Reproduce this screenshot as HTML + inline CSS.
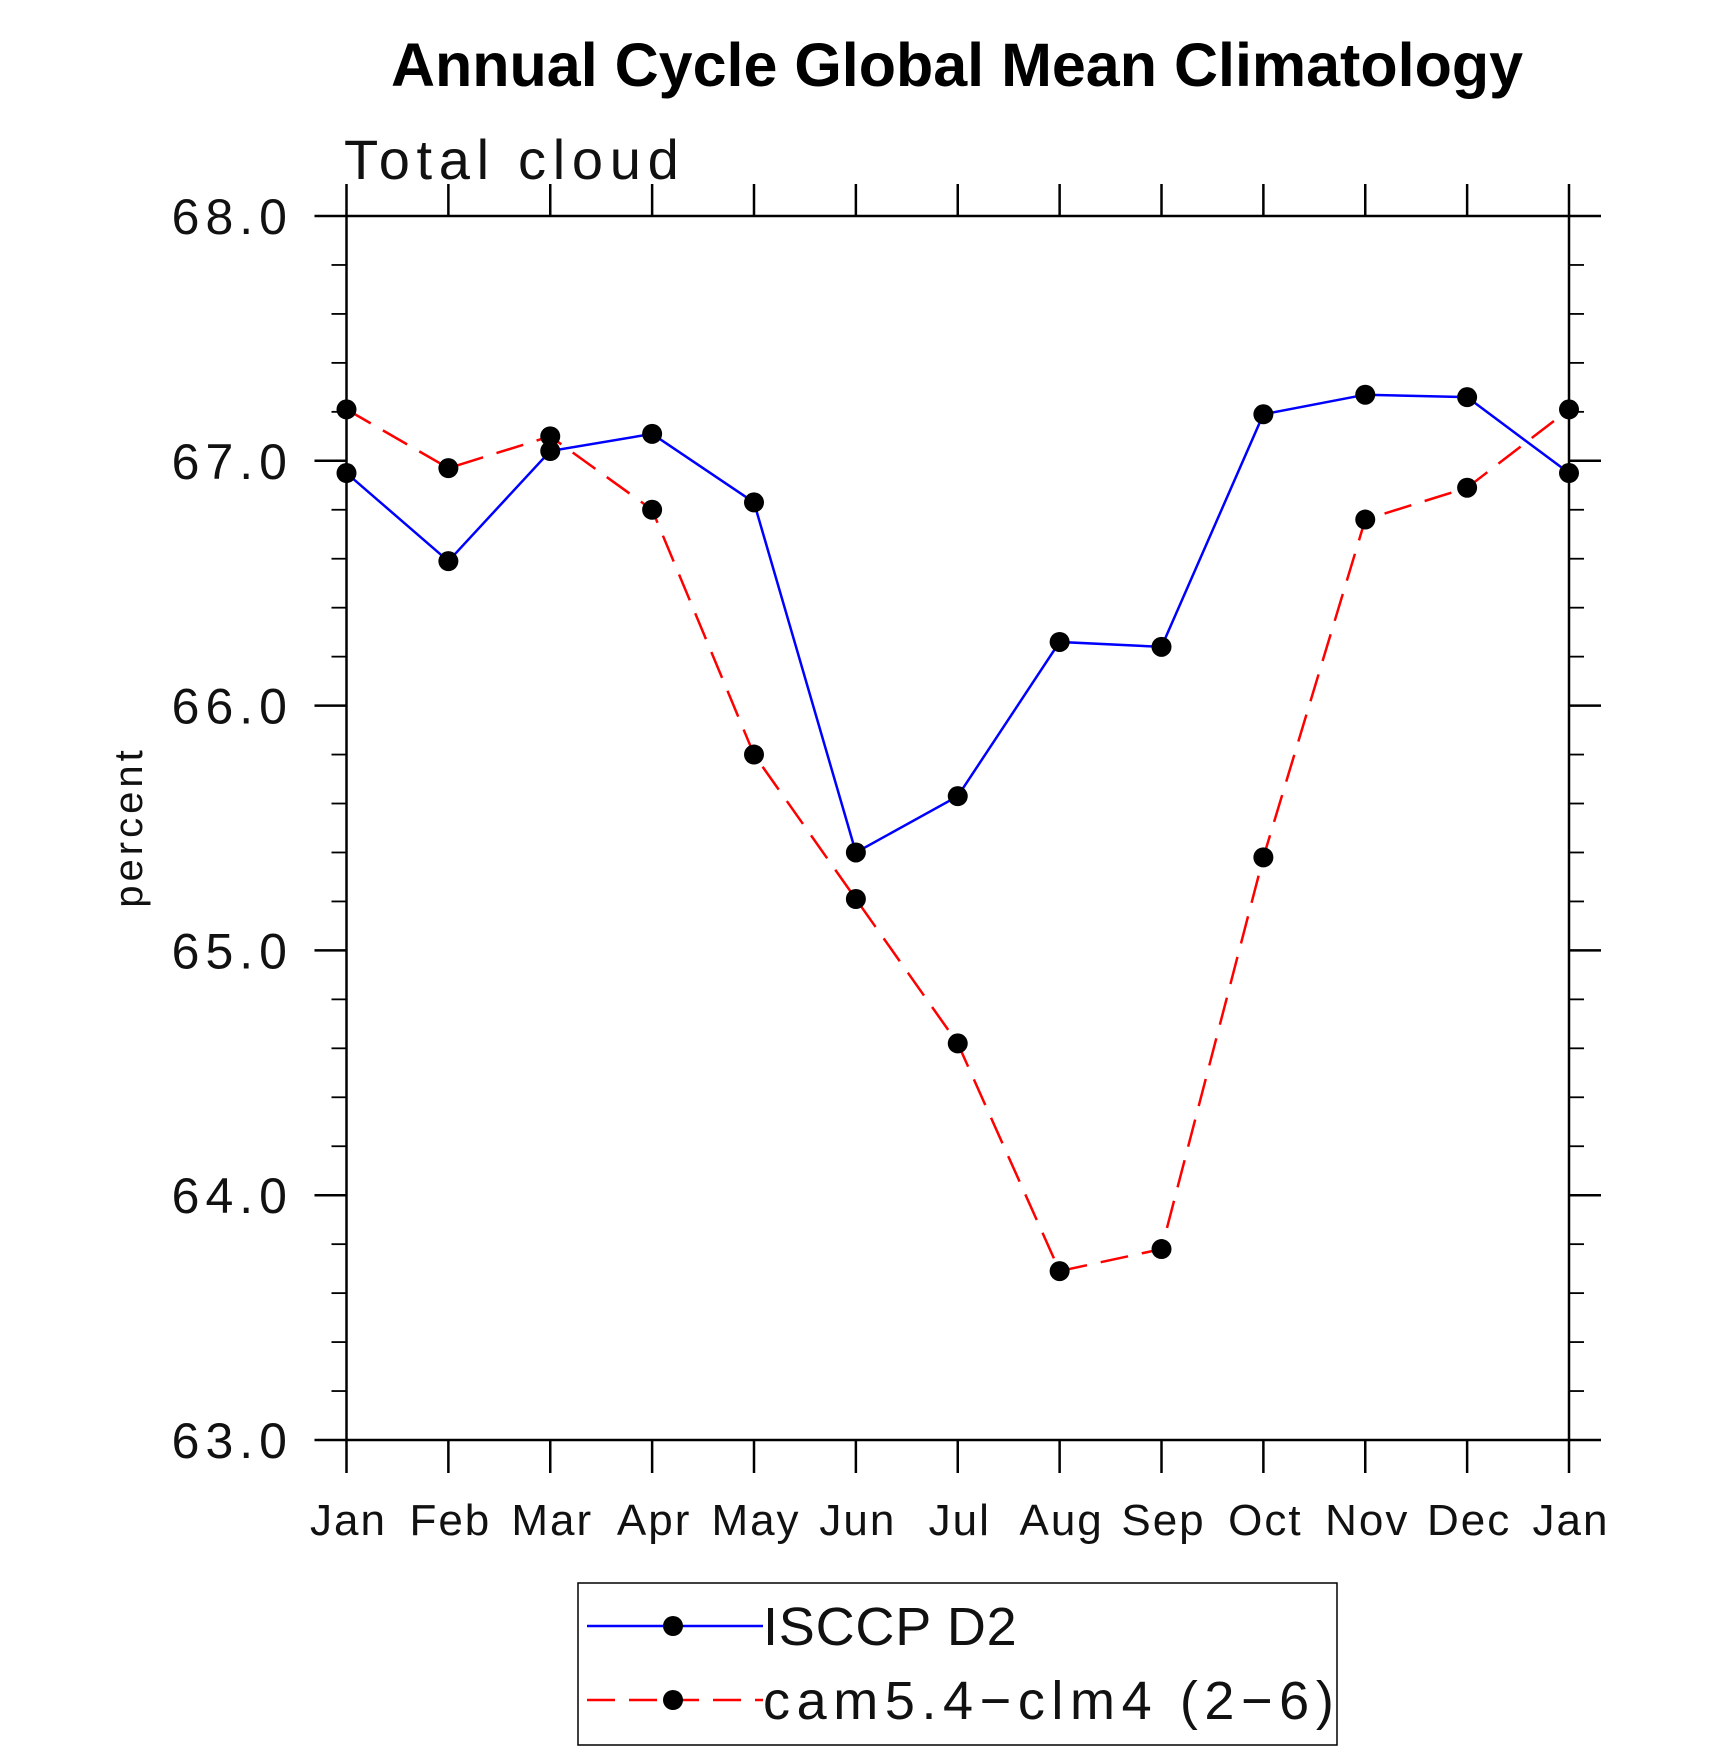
<!DOCTYPE html>
<html><head><meta charset="utf-8"><style>
html,body{margin:0;padding:0;background:#fff;}
svg{display:block;}
text{font-family:"Liberation Sans",sans-serif;}
</style></head><body>
<svg id="chart" width="1710" height="1751" viewBox="0 0 1710 1751" xmlns="http://www.w3.org/2000/svg">
<text x="957" y="86" text-anchor="middle" font-size="61" font-weight="bold">Annual Cycle Global Mean Climatology</text>
<text x="344" y="179" font-size="56" letter-spacing="6.7" fill="#111">Total cloud</text>
<text transform="translate(142,827) rotate(-90)" text-anchor="middle" font-size="40" letter-spacing="4" fill="#111">percent</text>
<g id="axes"></g>
<g id="series"></g>
<rect x="578" y="1583" width="759" height="162" fill="none" stroke="#000" stroke-width="1.5"/>
<g>
<line x1="587" y1="1626" x2="763" y2="1626" stroke="#0000ff" stroke-width="2.5"/>
<circle cx="673" cy="1626" r="10" fill="#000"/>
<text x="763" y="1645" font-size="54" letter-spacing="0.8" fill="#111">ISCCP D2</text>
</g>
<g>
<line x1="587" y1="1700" x2="763" y2="1700" stroke="#ff0000" stroke-width="2.5" stroke-dasharray="28,14"/>
<circle cx="673" cy="1700" r="10" fill="#000"/>
<text x="763" y="1719" font-size="54" letter-spacing="6.6" fill="#111">cam5.4−clm4 (2−6)</text>
</g>
</svg>
<script>
const months = ["Jan","Feb","Mar","Apr","May","Jun","Jul","Aug","Sep","Oct","Nov","Dec","Jan"];
const isccpValues = [66.95,66.59,67.04,67.11,66.83,65.40,65.63,66.26,66.24,67.19,67.27,67.26,66.95];
const camValues = [67.21,66.97,67.10,66.80,65.80,65.21,64.62,63.69,63.78,65.38,66.76,66.89,67.21];
const yTickLabels = ["63.0","64.0","65.0","66.0","67.0","68.0"];
const yMin = 63, yMax = 68;

const L=346.5,R=1569,T=216,B=1440;
const NS="http://www.w3.org/2000/svg";
function xs(i){return L+(R-L)*i/(months.length-1);}
function ys(v){return B-(B-T)*(v-yMin)/(yMax-yMin);}
function mk(tag,attrs,parent){const e=document.createElementNS(NS,tag);for(const k in attrs)e.setAttribute(k,attrs[k]);parent.appendChild(e);return e;}
const axes=document.getElementById('axes');
const series=document.getElementById('series');

const frame=mk('rect',{x:L,y:T,width:R-L,height:B-T,fill:'none',stroke:'#000','stroke-width':2.5},axes);



months.forEach((m,i)=>{
  const x=xs(i);
  const tb=mk('line',{x1:x,y1:B,x2:x,y2:B+33,stroke:'#000','stroke-width':2.5},axes);
  
  
  const tt=mk('line',{x1:x,y1:T,x2:x,y2:T-32,stroke:'#000','stroke-width':2.5},axes);
  
  
  const t=mk('text',{x:x+2,y:1535,'text-anchor':'middle','font-size':44,'letter-spacing':2,fill:'#111'},axes);
  t.textContent=m;
  
  
});

for(let k=0;k<=25;k++){
  const v=yMin+k*0.2;const y=ys(v);const major=(k%5===0);
  const len=major?32:15;
  const a=mk('line',{x1:L-len,y1:y,x2:L,y2:y,stroke:'#000','stroke-width':major?2.5:1.8},axes);
  
  
  const b=mk('line',{x1:R,y1:y,x2:R+len,y2:y,stroke:'#000','stroke-width':major?2.5:1.8},axes);
  
  
}
yTickLabels.forEach(lbl=>{
  const v=parseFloat(lbl);
  const t=mk('text',{x:293,y:ys(v)+18,'text-anchor':'end','font-size':50,'letter-spacing':6,fill:'#111'},axes);
  t.textContent=lbl;
  
  
});

function drawSeries(vals,color,dash,name){
  const pts=vals.map((v,i)=>xs(i)+','+ys(v)).join(' ');
  const pl=mk('polyline',{points:pts,fill:'none',stroke:color,'stroke-width':2.5,'stroke-dasharray':dash},series);
  
  
  vals.forEach((v,i)=>{
    const c=mk('circle',{cx:xs(i),cy:ys(v),r:10,fill:'#000'},series);
    
    
  });
}
drawSeries(camValues,'#ff0000','28,14','cam-series');
drawSeries(isccpValues,'#0000ff','none','isccp-series');
</script>
</body></html>
